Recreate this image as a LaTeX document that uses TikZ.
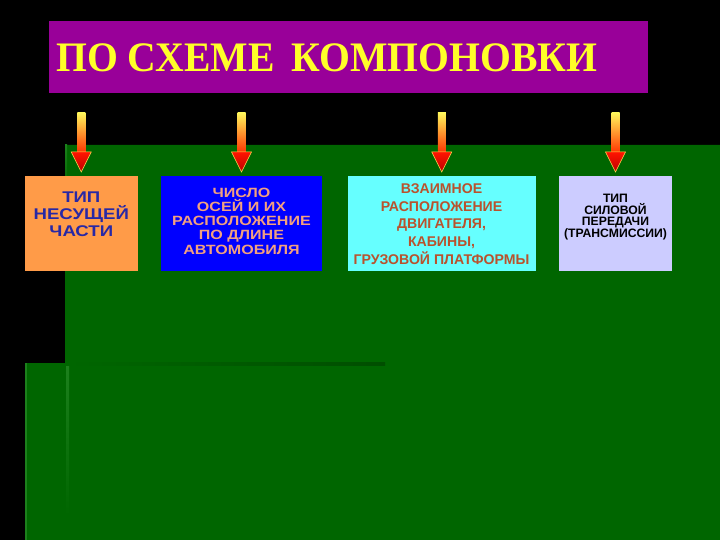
\documentclass[tikz,border=0pt]{standalone}
\usepackage{fontspec}
\newfontfamily\titlefont[FakeStretch=0.945]{Liberation Serif}
\newfontfamily\boxfont{Liberation Sans}
\newfontfamily\boxfontw[FakeStretch=1.2]{Liberation Sans}
\definecolor{bggreen}{RGB}{0,102,0}
\definecolor{edgegreen}{RGB}{28,128,28}
\definecolor{shadegreen}{RGB}{0,78,0}
\definecolor{tpurple}{RGB}{153,0,153}
\definecolor{tyellow}{RGB}{255,255,40}
\definecolor{borange}{RGB}{255,155,72}
\definecolor{bblue}{RGB}{0,0,255}
\definecolor{bcyan}{RGB}{102,255,255}
\definecolor{blav}{RGB}{204,204,255}
\definecolor{txblue}{RGB}{40,40,165}
\definecolor{txpeach}{RGB}{242,160,128}
\definecolor{txbrown}{RGB}{185,82,45}
\definecolor{shafttop}{RGB}{255,245,90}
\definecolor{shaftmid}{RGB}{255,160,20}
\definecolor{shaftbot}{RGB}{255,50,0}
\definecolor{headtop}{RGB}{255,20,0}
\definecolor{headbot}{RGB}{190,0,0}
\definecolor{headedge}{RGB}{255,220,80}
\tikzset{
  x=1pt, y=-1pt,
  boxnode/.style={rectangle, inner sep=0pt, outer sep=0pt, anchor=north west},
  boxtext/.style={inner sep=0pt, align=center},
}
\newcommand\fatarrow[1]{%
  \begin{scope}[shift={(#1.north)}]
    \shade[top color=shafttop, middle color=shaftmid, bottom color=shaftbot]
      (-4,-63) rectangle (4,-23);
    \shade[top color=headtop, bottom color=headbot, draw=headedge, line width=0.5pt]
      (-10,-24) -- (10,-24) -- (0,-4) -- cycle;
  \end{scope}}
\begin{document}
\begin{tikzpicture}
\fill[black] (0,0) rectangle (720,540);
\useasboundingbox (0,0) rectangle (720,540);
% green background
\fill[bggreen] (65,145) -- (720,145) -- (720,540) -- (25,540) -- (25,363) -- (65,363) -- cycle;
\fill[edgegreen] (25,363) rectangle (27,540);
\shade[top color=edgegreen, bottom color=bggreen] (66,366) rectangle (69,515);
\shade[top color=edgegreen, bottom color=bggreen] (65,145) rectangle (67,190);
\shade[left color=bggreen, right color=shadegreen] (69,362.5) rectangle (385,365);
% title
\node[boxnode, fill=tpurple, minimum width=599pt, minimum height=72pt] (tbox) at (49,21) {};
\node[anchor=base west, inner sep=0pt, text=tyellow, font=\titlefont\bfseries\fontsize{42}{44}\selectfont] (title) at (56,72) {ПО СХЕМЕ\hspace{17pt}КОМПОНОВКИ};
% boxes
\node[boxnode, fill=borange, minimum width=112.5pt, minimum height=94.5pt] (b1) at (25,176) {};
\node[boxnode, fill=bblue, minimum width=161pt, minimum height=94.5pt] (b2) at (161,176) {};
\node[boxnode, fill=bcyan, minimum width=187.5pt, minimum height=94.5pt] (b3) at (348,176) {};
\node[boxnode, fill=blav, minimum width=113pt, minimum height=94.5pt] (b4) at (559,176) {};
% texts
\node[boxtext, text=txblue, font=\boxfontw\bfseries\fontsize{15.5}{17}\selectfont] (t1) at (81.3,214.5) {ТИП\\НЕСУЩЕЙ\\ЧАСТИ};
\node[boxtext, text=txpeach, font=\boxfontw\bfseries\fontsize{13.4}{14.3}\selectfont] (t2) at (241.5,221) {ЧИСЛО\\ОСЕЙ И ИХ\\РАСПОЛОЖЕНИЕ\\ПО ДЛИНЕ\\АВТОМОБИЛЯ};
\node[boxtext, text=txbrown, font=\boxfont\bfseries\fontsize{14.1}{17.6}\selectfont] (t3) at (441.5,224) {ВЗАИМНОЕ\\РАСПОЛОЖЕНИЕ\\ДВИГАТЕЛЯ,\\КАБИНЫ,\\ГРУЗОВОЙ ПЛАТФОРМЫ};
\node[boxtext, text=black, font=\boxfont\bfseries\fontsize{12.2}{11.5}\selectfont] (t4) at (615.5,217) {ТИП\\СИЛОВОЙ\\ПЕРЕДАЧИ\\(ТРАНСМИССИИ)};
% arrows
\fatarrow{b1}
\fatarrow{b2}
\fatarrow{b3}
\fatarrow{b4}
\end{tikzpicture}
\end{document}
